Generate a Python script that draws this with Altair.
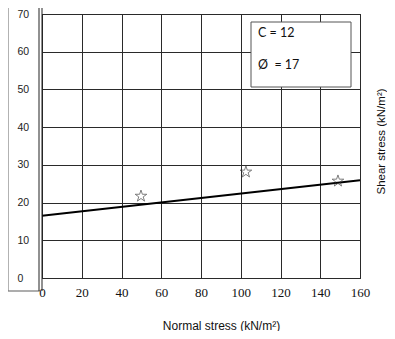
import altair as alt
import pandas as pd

# ---- data ----
x_ticks = [0, 20, 40, 60, 80, 100, 120, 140, 160]
y_ticks = [0, 10, 20, 30, 40, 50, 60, 70]
normal_stress = [49.8, 102.6, 148.9]
shear_stress = [21.7, 28.1, 25.7]
fit_x = [0, 160]
fit_y = [16.5, 25.9]
box_lines = ["C = 12", "Ø\u00a0 = 17"]

W, H = 318, 264

xs = alt.Scale(domain=[0, 160], nice=False, zero=False)
ys = alt.Scale(domain=[0, 70], nice=False, zero=False)

pts = pd.DataFrame({"x": normal_stress, "y": shear_stress})
fit = pd.DataFrame({"x": fit_x, "y": fit_y})
one = alt.Data(values=[{}])

x_axis = alt.Axis(
    values=x_ticks, title="Normal stress (kN/m²)", grid=True, ticks=False, domain=False,
    labelOverlap=False, labelFont="Liberation Serif", labelFontSize=13, labelColor="#111",
    labelBaseline="middle", labelPadding=14, labelFlush=False,
    titleFont="Liberation Sans", titleFontSize=12, titleFontWeight="normal", titleColor="#111",
    titleX=179, titleY=47, titleBaseline="middle", titleAlign="center",
)
y_axis = alt.Axis(
    values=y_ticks, title="Shear stress (kN/m²)", grid=True, ticks=False, domain=False,
    labelOverlap=False, labelFont="Liberation Sans", labelFontSize=10.5, labelColor="#222",
    labelAlign="left", labelBaseline="middle", labelPadding=25, labelFlush=False,
    titleFont="Liberation Sans", titleFontSize=11.5, titleFontWeight="normal", titleColor="#111",
    titleAngle=270, titleX=339, titleY=127, titleBaseline="middle", titleAlign="center",
)

line = alt.Chart(fit).mark_line(color="black", strokeWidth=2).encode(
    x=alt.X("x:Q", scale=xs, axis=x_axis),
    y=alt.Y("y:Q", scale=ys, axis=y_axis),
)

star_path = ("M0,-1L0.2245,-0.309L0.951,-0.309L0.363,0.118L0.588,0.809L0,0.382"
             "L-0.588,0.809L-0.363,0.118L-0.951,-0.309L-0.2245,-0.309Z")
stars = alt.Chart(pts).mark_point(
    shape=star_path, size=150, filled=False, color="#333", strokeWidth=0.9
).encode(x=alt.X("x:Q", scale=xs, axis=x_axis), y=alt.Y("y:Q", scale=ys, axis=y_axis))

# frame decorations around the plot
def vrule(x, y1, y2, color, w):
    return alt.Chart(one).mark_rule(color=color, strokeWidth=w).encode(
        x=alt.value(x), y=alt.value(y1), y2=alt.value(y2))

def hrule(y, x1, x2, color, w):
    return alt.Chart(one).mark_rule(color=color, strokeWidth=w).encode(
        y=alt.value(y), x=alt.value(x1), x2=alt.value(x2))

deco = [
    vrule(-34, -9, 277, "#999", 1.5),
    hrule(277, -34, -2, "#777", 1.2),
    vrule(-3, -9, 277, "#222", 1),
    vrule(0, -9, 277, "#222", 1),
]

box = alt.Chart(one).mark_rect(fill="white", stroke="#555", strokeWidth=1).encode(
    x=alt.value(209), x2=alt.value(309), y=alt.value(8), y2=alt.value(73))
t1 = alt.Chart(one).mark_text(
    text=box_lines[0], font="Lato", fontSize=12.5, align="left", baseline="middle", color="#111"
).encode(x=alt.value(216), y=alt.value(19))
t2 = alt.Chart(one).mark_text(
    text=box_lines[1], font="Lato", fontSize=12.5, align="left", baseline="middle", color="#111"
).encode(x=alt.value(216), y=alt.value(51))

chart = alt.layer(line, stars, *deco, box, t1, t2).properties(
    width=W, height=H,
    autosize=alt.AutoSizeParams(type="none"),
    padding={"left": 34, "top": 6, "right": 27, "bottom": 53},
).configure_view(stroke="black", strokeWidth=1).configure_axis(
    gridColor="#2a2a2a", gridOpacity=1, gridWidth=1
)

chart.save("out.html", embed_options={"renderer": "svg", "actions": False})
